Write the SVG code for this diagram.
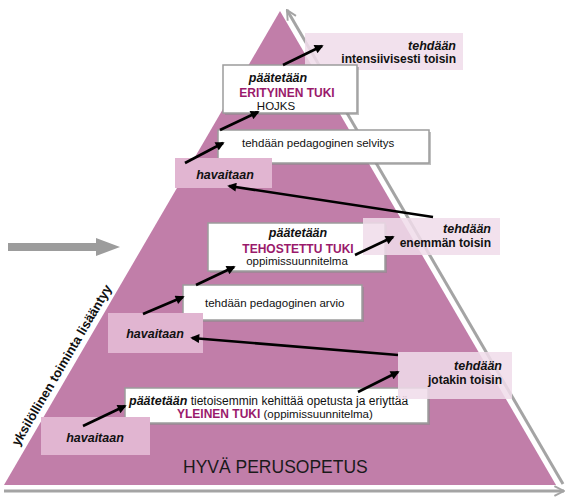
<svg xmlns="http://www.w3.org/2000/svg" width="571" height="501" viewBox="0 0 571 501">
<defs>
<style>
text{font-family:"Liberation Sans",Arial,sans-serif;fill:#111}
.bi{font-weight:bold;font-style:italic;font-size:12.5px}
.b{font-weight:bold;font-size:12px}
.r{font-size:11.5px}
.pu{fill:#9a1a6b}
.wbox{fill:#fff;stroke:#9c9c9c;stroke-width:1.5}
.shadow{fill:#8a8a8a;opacity:0.55}
.pbox{fill:#f0dcea;fill-opacity:0.86}
.hbox{fill:#e1b5d1}
.arr{stroke:#000;stroke-width:2.6;fill:none;marker-end:url(#ah)}
.grey{stroke:#a4a4a4;stroke-width:3;fill:none;marker-end:url(#ch)}
</style>
<marker id="ah" markerUnits="userSpaceOnUse" viewBox="0 0 10 10" refX="8" refY="5" markerWidth="11" markerHeight="9" orient="auto">
<path d="M0,0 L10,5 L0,10 z" fill="#000"/>
</marker>
<marker id="ch" markerUnits="userSpaceOnUse" viewBox="0 0 10 10" refX="9" refY="5" markerWidth="12" markerHeight="12" orient="auto">
<path d="M1,1 L9,5 L1,9" fill="none" stroke="#a4a4a4" stroke-width="1.6"/>
</marker>
</defs>

<g id="pyramid">
<polygon points="280,11 4,485 556,485" fill="#c17ea9"/>
</g>

<g id="axes">
<line class="grey" x1="563" y1="484" x2="287" y2="10"/>
<line class="grey" x1="4" y1="491" x2="564" y2="491"/>
<polygon points="8,243 96,243 96,238 120,247 96,256 96,251 8,251" fill="#9c9c9c"/>
<text transform="translate(65.5,367.5) rotate(-59.5)" text-anchor="middle" style="font-weight:bold;font-size:13px">yksilöllinen toiminta lisääntyy</text>
</g>

<g id="intensiivisesti">
<rect class="pbox" x="305" y="33" width="158" height="37"/>
<text class="bi" x="456" y="50" text-anchor="end">tehdään</text>
<text class="b" x="456" y="63" text-anchor="end">intensiivisesti toisin</text>
</g>

<g id="erityinen">
<rect class="shadow" x="225" y="67" width="134" height="48"/>
<rect class="wbox" x="223" y="65" width="134" height="48"/>
<text class="bi" x="278" y="82" text-anchor="middle">päätetään</text>
<text class="b pu" x="287" y="97" text-anchor="middle">ERITYINEN TUKI</text>
<text class="r" x="276" y="110" text-anchor="middle">HOJKS</text>
</g>

<g id="selvitys">
<rect class="shadow" x="220" y="132" width="211" height="33"/>
<rect class="wbox" x="218" y="130" width="211" height="33"/>
<text class="r" x="242" y="147">tehdään pedagoginen selvitys</text>
</g>

<g id="havaitaan3">
<rect class="hbox" x="175" y="158" width="97" height="30"/>
<text class="bi" x="225" y="179" text-anchor="middle">havaitaan</text>
</g>

<g id="tehostettu">
<rect class="shadow" x="210" y="225" width="177" height="48"/>
<rect class="wbox" x="208" y="223" width="177" height="48"/>
<text class="bi" x="298" y="237" text-anchor="middle">päätetään</text>
<text class="b pu" x="298" y="253" text-anchor="middle">TEHOSTETTU TUKI</text>
<text class="r" x="297" y="265" text-anchor="middle">oppimissuunnitelma</text>
</g>

<g id="enemman">
<rect class="pbox" x="363" y="218" width="137" height="37"/>
<text class="bi" x="491" y="233" text-anchor="end">tehdään</text>
<text class="b" x="491" y="247" text-anchor="end">enemmän toisin</text>
</g>

<g id="arvio">
<rect class="shadow" x="185" y="287" width="179" height="35"/>
<rect class="wbox" x="183" y="285" width="179" height="35"/>
<text class="r" x="205" y="307">tehdään pedagoginen arvio</text>
</g>

<g id="havaitaan2">
<rect class="hbox" x="108" y="313" width="95" height="40"/>
<text class="bi" x="155" y="338" text-anchor="middle">havaitaan</text>
</g>

<g id="yleinen">
<rect class="shadow" x="127" y="390" width="303" height="35"/>
<rect class="wbox" x="125" y="388" width="303" height="35"/>
<text x="129" y="405"><tspan class="bi">päätetään</tspan><tspan style="font-size:12px"> tietoisemmin kehittää opetusta ja eriyttää</tspan></text>
<text x="177" y="418"><tspan class="b pu">YLEINEN TUKI</tspan><tspan class="r"> (oppimissuunnitelma)</tspan></text>
</g>

<g id="jotakin">
<rect class="pbox" x="398" y="352" width="114" height="47"/>
<text class="bi" x="502" y="370" text-anchor="end">tehdään</text>
<text class="b" x="502" y="384" text-anchor="end">jotakin toisin</text>
</g>

<g id="havaitaan1">
<rect class="hbox" x="41" y="417" width="109" height="38"/>
<text class="bi" x="95" y="442" text-anchor="middle">havaitaan</text>
</g>

<g id="perusopetus">
<text x="183" y="473" style="font-size:17.5px;fill:#1a1a1a">HYVÄ PERUSOPETUS</text>
</g>

<g id="connectors">
<line class="arr" x1="83" y1="426" x2="125" y2="406"/>
<line class="arr" x1="358" y1="392" x2="398" y2="372"/>
<line class="arr" x1="398" y1="355" x2="192" y2="338"/>
<line class="arr" x1="143" y1="314" x2="183" y2="297"/>
<line class="arr" x1="196" y1="285" x2="234" y2="267"/>
<line class="arr" x1="355" y1="255" x2="393" y2="237"/>
<line class="arr" x1="433" y1="217" x2="229" y2="186"/>
<line class="arr" x1="185" y1="163" x2="223" y2="143"/>
<line class="arr" x1="220" y1="130" x2="258" y2="112"/>
<line class="arr" x1="283" y1="65" x2="322" y2="46"/>
</g>
</svg>
